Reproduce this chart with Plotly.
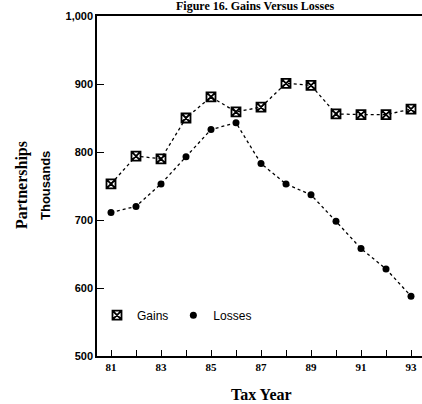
import plotly.graph_objects as go

years = list(range(81, 94))
gains = [753, 794, 790, 850, 881, 859, 866, 901, 898, 856, 855, 855, 863]
losses = [711, 720, 753, 793, 833, 843, 783, 753, 737, 698, 658, 628, 588]
xtick_vals = [81, 83, 85, 87, 89, 91, 93]
xtick_text = ["81", "83", "85", "87", "89", "91", "93"]
ytick_vals = [500, 600, 700, 800, 900, 1000]
ytick_text = ["500", "600", "700", "800", "900", "1,000"]

fig = go.Figure()
fig.add_trace(go.Scatter(x=years, y=gains, mode="lines+markers", showlegend=False,
                         line=dict(color="black", width=1.3, dash="dot"),
                         marker=dict(symbol="square-x-open", size=9, color="black",
                                     line=dict(width=1.8, color="black"))))
fig.add_trace(go.Scatter(x=years, y=losses, mode="lines+markers", showlegend=False,
                         line=dict(color="black", width=1.3, dash="dot"),
                         marker=dict(symbol="circle", size=7, color="black")))
fig.add_trace(go.Scatter(x=[None], y=[None], mode="markers", name="Gains",
                         marker=dict(symbol="square-x-open", size=9, color="black",
                                     line=dict(width=1.8, color="black"))))
fig.add_trace(go.Scatter(x=[None], y=[None], mode="markers", name="Losses",
                         marker=dict(symbol="circle", size=7, color="black")))

fig.update_layout(
    width=422, height=404,
    margin=dict(l=97, r=0, t=16, b=48),
    paper_bgcolor="white", plot_bgcolor="white",
    showlegend=True,
    legend=dict(orientation="h", x=0.0, y=0.12, xanchor="left", yanchor="middle",
                font=dict(family="Liberation Sans", size=12, color="black"),
                bgcolor="rgba(0,0,0,0)", itemwidth=30, tracegroupgap=0),
    xaxis=dict(range=[80.44, 93.44], tickvals=xtick_vals, ticktext=xtick_text,
               ticks="inside", ticklen=6, tickwidth=1, tickcolor="black",
               minor=dict(dtick=1, tick0=81, ticks="inside", ticklen=6, tickcolor="black"),
               showline=True, linecolor="black", linewidth=1.5, mirror=True,
               showgrid=False, zeroline=False,
               tickfont=dict(family="Liberation Serif", size=11, color="black", weight="bold")),
    yaxis=dict(range=[500, 1000], tickvals=ytick_vals, ticktext=ytick_text,
               ticks="inside", ticklen=7, tickwidth=1, tickcolor="black",
               showline=True, linecolor="black", linewidth=1.5,
               showgrid=False, zeroline=False,
               tickfont=dict(family="Liberation Sans", size=11, color="black", weight="bold")),
    annotations=[
        dict(text="Figure 16. Gains Versus Losses", xref="paper", yref="paper",
             x=0.485, y=1, yshift=1, xanchor="center", yanchor="bottom", showarrow=False,
             font=dict(family="Liberation Serif", size=12, color="black", weight="bold")),
        dict(text="Tax Year", xref="paper", yref="paper", x=0.505, y=0, yshift=-38,
             xanchor="center", yanchor="middle", showarrow=False,
             font=dict(family="Liberation Serif", size=16, color="black", weight="bold")),
        dict(text="Partnerships", xref="paper", yref="paper", x=0, xshift=-75, y=0.5, yshift=1,
             textangle=-90, xanchor="center", yanchor="middle", showarrow=False,
             font=dict(family="Liberation Serif", size=16, color="black", weight="bold")),
        dict(text="Thousands", xref="paper", yref="paper", x=0, xshift=-52, y=0.5, yshift=0,
             textangle=-90, xanchor="center", yanchor="middle", showarrow=False,
             font=dict(family="Liberation Sans", size=13, color="black", weight="bold")),
    ],
)

fig.write_html("out.html", config={"displayModeBar": False},
               post_script="document.body.style.margin='0';")
